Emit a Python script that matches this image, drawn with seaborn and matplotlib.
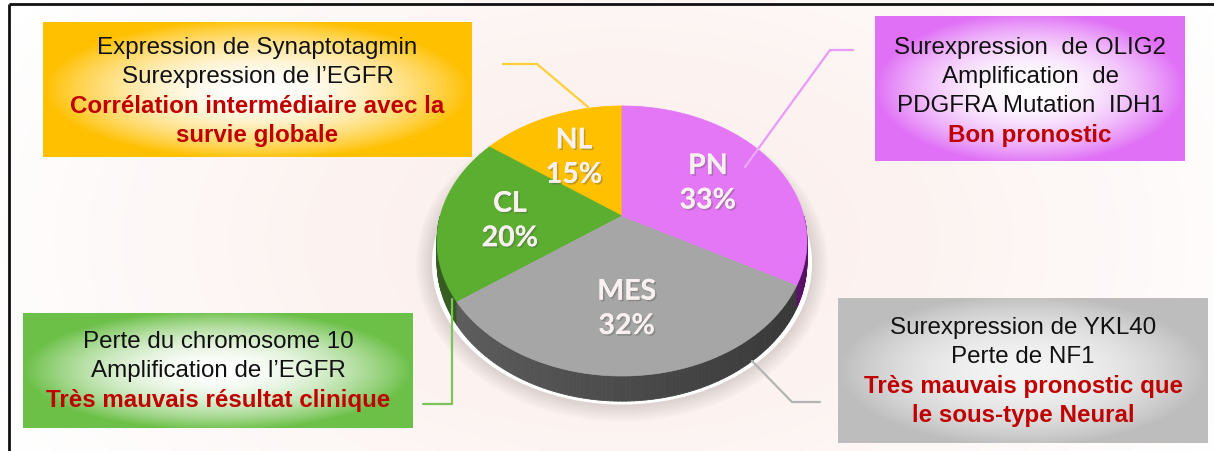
import colorsys
import numpy as np
import matplotlib
matplotlib.use("Agg")
import matplotlib.pyplot as plt
import matplotlib.patheffects as pe
from matplotlib.patches import Polygon, Ellipse
from matplotlib.collections import PolyCollection
from matplotlib.colors import to_rgb
import seaborn as sns

# --- data -------------------------------------------------------------
subtypes = ["NL", "CL", "MES", "PN"]
shares = [15, 20, 32, 33]
slice_colors = ["#FFC000", "#5BAE2F", "#A6A6A6", "#E377F6"]

nl_notes = ["Expression de Synaptotagmin", "Surexpression de l\u2019EGFR"]
nl_outcome = ["Corrélation intermédiaire avec la", "survie globale"]
pn_notes = ["Surexpression  de OLIG2", "Amplification  de", "PDGFRA Mutation  IDH1"]
pn_outcome = ["Bon pronostic"]
cl_notes = ["Perte du chromosome 10", "Amplification de l\u2019EGFR"]
cl_outcome = ["Très mauvais résultat clinique"]
mes_notes = ["Surexpression de YKL40", "Perte de NF1"]
mes_outcome = ["Très mauvais pronostic que", "le sous-type Neural"]

# --- style ------------------------------------------------------------
sns.set_theme(style="white")
plt.rcParams["font.family"] = ["Liberation Sans", "DejaVu Sans"]

W, H = 1214, 452
fig = plt.figure(figsize=(W / 100, H / 100), dpi=100)
ax = fig.add_axes([0, 0, 1, 1])

# soft pink background
yy, xx = np.mgrid[0:H:4, 0:W:4]
r = np.clip(np.hypot((xx - 620) / 700, (yy - 240) / 420), 0, 1) ** 1.2
pink = np.array(to_rgb("#FBEDE9"))
bg = pink * (1 - r[..., None]) + np.ones(3) * r[..., None]
ax.imshow(bg, extent=(0, W, H, 0), aspect="auto", zorder=0, interpolation="bilinear")

# frame (top and left only are visible in the slide crop)
ax.plot([9, W], [5, 5], color="#111111", lw=2, zorder=1, solid_capstyle="butt")
ax.plot([9, 9], [5, H], color="#111111", lw=2, zorder=1, solid_capstyle="butt")

# --- pie in perspective ----------------------------------------------
K, SX, SY, CX, CY = 0.185, 181.8, 130.4, 622, 217
D0 = 20.5


def project(u, v):
    w = 1 + K * v
    return CX + SX * u / w, CY - SY * v / w


wedges, texts = ax.pie(
    shares, labels=[f"{n}\n{s}%" for n, s in zip(subtypes, shares)],
    colors=slice_colors, startangle=90, counterclock=True,
    labeldistance=0.6, frame=True,
    textprops=dict(family=["Lato", "DejaVu Sans"], fontweight="bold",
                   fontsize=20.5, color="#F8F1F0", ha="center", va="center",
                   linespacing=1.4))

# halo / shadow under the disc
hw = SX / np.sqrt(1 - K ** 2)
top_y = project(0, 1)[1]
bot_y = project(0, -1)[1]
ecx, ecy, ehh = CX, (top_y + bot_y) / 2, (bot_y - top_y) / 2
for i in range(10, 0, -1):
    ax.add_patch(Ellipse((ecx, ecy + D0 + 3), 2 * (hw + 5 + 1.6 * i), 2 * (ehh + 6 + 1.6 * i),
                         facecolor="#9A9090", edgecolor="none", alpha=0.03, zorder=2))
ax.add_patch(Ellipse((ecx, ecy + D0 + 2), 2 * (hw + 5), 2 * (ehh + 6),
                     facecolor="white", edgecolor="none", zorder=2.1))

# side of the disc
quads, qcols = [], []
for wd, col in zip(wedges, slice_colors):
    hh, ll, ss = colorsys.rgb_to_hls(*to_rgb(col))
    dark = np.array(colorsys.hls_to_rgb(hh, ll * 0.45, ss * 0.8))
    a0, a1 = max(wd.theta1, 180), min(wd.theta2, 360)
    if a1 <= a0:
        continue
    angs = np.linspace(a0, a1, max(int(a1 - a0), 2) + 1)
    for a, b in zip(angs[:-1], angs[1:]):
        pts = []
        for t in (a, b):
            u, v = np.cos(np.radians(t)), np.sin(np.radians(t))
            pts.append(project(u, v) + (D0 / (1 + K * v),))
        (x1, y1, d1), (x2, y2, d2) = pts
        quads.append([(x1, y1), (x2, y2), (x2, y2 + d2), (x1, y1 + d1)])
        shade = 1 - 0.3 * np.cos(np.radians((a + b) / 2))
        qcols.append(np.clip(dark * shade, 0, 1))
ax.add_collection(PolyCollection(quads, facecolors=qcols, edgecolors=qcols,
                                 linewidths=0.6, zorder=3))

# top surface: re-project every wedge drawn by pie
for wd in wedges:
    t = np.radians(np.linspace(wd.theta1, wd.theta2, 200))
    u = np.concatenate([[0], np.cos(t) * wd.r])
    v = np.concatenate([[0], np.sin(t) * wd.r])
    px, py = project(u, v)
    ax.add_patch(Polygon(np.column_stack([px, py]), closed=True,
                         facecolor=wd.get_facecolor(), edgecolor=wd.get_facecolor(),
                         lw=0.5, zorder=4))
    wd.remove()

for tx in texts:
    u, v = tx.get_position()
    px, py = project(u, v)
    tx.set_position((px - 3, py + 5))
    tx.set_zorder(6)
    tx.set_path_effects([pe.withSimplePatchShadow(offset=(1.2, -1.2), alpha=0.35,
                                                   shadow_rgbFace="#555555"), pe.Normal()])

# --- annotation boxes -------------------------------------------------


def note_box(rect, edge, mid, notes, outcome, y0, step=29.2, power=2.0):
    x0, ya, x1, yb = rect
    gy, gx = np.mgrid[-1:1:120j, -1:1:220j]
    f = np.clip(np.hypot(gx, gy * 0.95), 0, 1) ** power
    img = np.array(to_rgb(mid)) * (1 - f[..., None]) + np.array(to_rgb(edge)) * f[..., None]
    ax.imshow(img, extent=(x0, x1, yb, ya), aspect="auto", zorder=5, interpolation="bilinear")
    cx = (x0 + x1) / 2
    for i, line in enumerate(notes + outcome):
        red = i >= len(notes)
        ax.text(cx, y0 + i * step, line, ha="center", va="center", fontsize=17.4,
                color="#C00000" if red else "#111111",
                fontweight="bold" if red else "normal", zorder=6)


note_box((43, 23, 472, 158), "#FFC000", "#FFFFFF", nl_notes, nl_outcome, 48)
note_box((875, 17, 1185, 162), "#E070F6", "#FFFFFF", pn_notes, pn_outcome, 48)
note_box((23, 314, 413, 429), "#6CC048", "#FFFFFF", cl_notes, cl_outcome, 342)
note_box((838, 299, 1208, 444), "#BDBDBD", "#F4F4F4", mes_notes, mes_outcome, 328)

# leader lines
ax.plot([503, 537, 588], [65, 65, 108], color="#FFCF3A", lw=1.6, zorder=4.5)
ax.plot([853, 830, 758], [51, 51, 150], color="#E89BFA", lw=1.6, zorder=4.5)
ax.plot([758, 745], [150, 168], color="#F2C4FC", lw=1.4, alpha=0.7, zorder=4.6)
ax.plot([452, 452, 423], [300, 405, 405], color="#7CC35B", lw=1.6, zorder=4.5)
ax.plot([752, 792, 820], [362, 403, 403], color="#B4B4B4", lw=1.6, zorder=4.5)

ax.set_aspect("auto")
ax.set_xlim(0, W)
ax.set_ylim(H, 0)
ax.axis("off")
fig.savefig("out.png", dpi=100)
